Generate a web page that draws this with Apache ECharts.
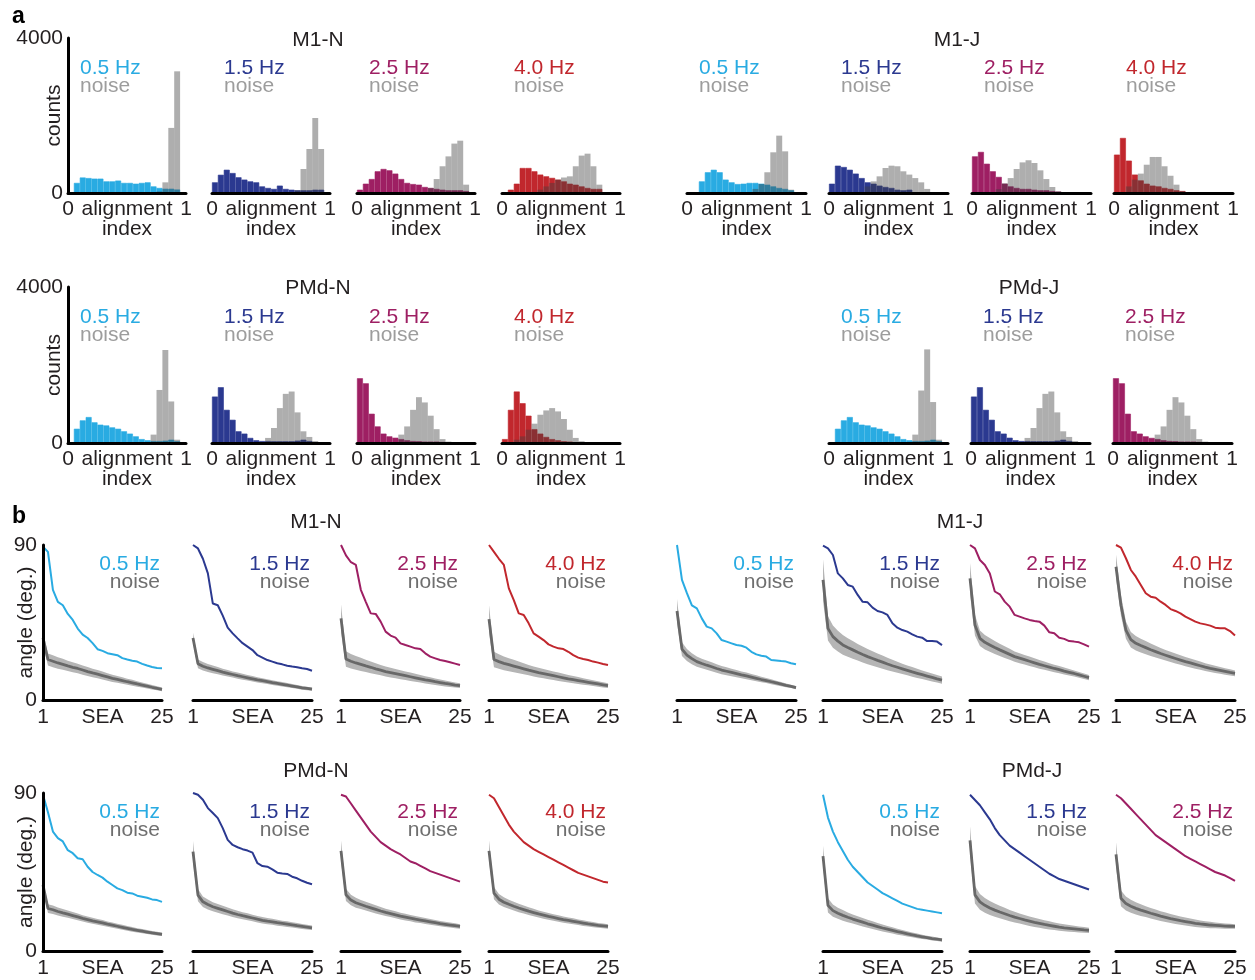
<!DOCTYPE html>
<html><head><meta charset="utf-8">
<script src="https://cdn.jsdelivr.net/npm/echarts@6/dist/echarts.min.js"></script>
<style>html,body{margin:0;padding:0;background:#fff}#c{width:1255px;height:980px}</style>
</head><body><div id="c"></div>
<script>
// ---------- data ----------
const freqLabels = ['0.5 Hz', '1.5 Hz', '2.5 Hz', '4.0 Hz'];
const binCenters = [0.025,0.075,0.125,0.175,0.225,0.275,0.325,0.375,0.425,0.475,0.525,0.575,0.625,0.675,0.725,0.775,0.825,0.875,0.925,0.975];
const seaSteps = [1,2,3,4,5,6,7,8,9,10,11,12,13,14,15,16,17,18,19,20,21,22,23,24,25];

// histogram counts (20 bins of alignment index)
const histM1N_signal = [
  [0,260,400,385,370,370,300,300,320,260,260,240,260,275,170,130,110,110,90,0],
  [275,470,600,515,405,345,300,275,170,130,105,190,105,85,70,70,70,85,85,0],
  [85,240,360,560,620,585,500,360,260,230,215,155,130,105,85,70,70,70,50,0],
  [0,85,240,645,645,560,475,430,390,345,300,240,215,170,130,105,105,0,0,0]];
const histM1N_noise = [
  [0,0,0,0,0,0,0,0,0,0,0,0,0,0,0,40,275,1680,3140,0],
  [0,0,0,0,0,0,0,0,0,0,0,0,0,0,70,620,1135,1935,1135,0],
  [0,0,0,0,0,0,0,0,0,0,0,0,130,360,690,945,1275,1350,215,0],
  [0,0,0,0,0,0,85,170,260,345,400,430,690,965,1015,690,215,0,0,0]];
const histM1J_signal = [
  [0,0,300,535,600,535,345,275,230,240,260,260,240,215,170,130,105,70,0,0],
  [240,705,670,600,500,385,275,240,190,155,130,85,70,85,0,0,0,0,0,0],
  [945,1060,755,560,415,240,170,130,105,105,85,70,70,50,35,0,0,0,0,0],
  [990,1420,835,475,325,240,190,170,130,105,70,50,0,0,0,0,0,0,0,0]];
const histM1J_noise = [
  [0,0,0,0,0,0,0,0,0,0,0,105,230,535,1050,1480,1075,85,0,0],
  [0,0,0,0,0,0,170,300,430,645,705,690,560,475,385,275,105,0,0,0],
  [0,0,0,0,100,250,385,620,790,845,775,585,360,155,45,0,0,0,0,0],
  [0,0,170,345,500,730,930,930,690,445,215,50,0,0,0,0,0,0,0,0]];
const histPMdN_signal = [
  [0,365,580,665,530,470,450,400,365,300,240,170,100,70,50,50,60,85,45,0],
  [1190,1430,850,595,300,240,130,70,50,50,45,45,45,45,60,85,50,0,0,0],
  [1660,1530,750,425,240,170,135,100,70,50,45,35,35,35,25,0,0,0,0,0],
  [100,850,1320,1020,700,355,240,155,100,70,45,35,0,0,0,0,0,0,0,0]];
const histPMdN_noise = [
  [0,0,0,0,0,0,0,0,0,0,0,0,0,0,215,1360,2385,1065,85,0],
  [0,0,0,0,0,0,0,0,0,130,385,895,1260,1320,785,300,155,50,0,0],
  [0,0,0,0,0,0,0,215,425,850,1175,1040,700,355,100,35,0,0,0,0],
  [0,0,85,170,340,495,725,835,895,810,615,340,130,45,0,0,0,0,0,0]];
const histPMdJ_signal = [
  [0,365,580,665,530,470,450,400,365,300,240,170,100,70,50,50,60,85,45,0],
  [1190,1430,850,595,300,240,135,70,50,50,45,45,45,45,60,85,50,0,0,0],
  [1660,1530,750,300,240,170,130,100,70,50,45,35,35,35,25,0,0,0,0,0]];
const histPMdJ_noise = [
  [0,0,0,0,0,0,0,0,0,0,0,0,0,0,215,1345,2400,1050,85,0],
  [0,0,0,0,0,0,0,0,0,130,385,895,1260,1320,785,300,155,50,0,0],
  [0,0,0,0,0,0,0,215,425,850,1175,1040,700,355,100,35,0,0,0,0]];

// angle (deg.) vs SEA
const angM1N_signal = [
  [89,86,64,57,55,50,46.5,41.5,38,36,33,29.5,28.5,27.2,26.6,26,24.3,23.5,22.8,22.3,21,20,19.2,18.6,18.4],
  [90,88,82,73.5,56,55,49,42,38.7,35.8,33,31,29,26,24.6,23.2,22.3,21.3,20.7,19.9,19.4,19,18.4,18,17],
  [90,84,80,78.4,64,57,50.3,50,45.5,39.7,37.4,36.2,32.9,31.9,31,30,29.6,27.1,25.2,24.2,23.2,22.6,21.9,21.1,20.3],
  [90,86,82,78.4,64.8,58,50.3,49.4,44.5,38.7,36.8,34.8,32.3,31,30,29.6,28,26.1,24.6,23.8,23.2,22.3,21.7,20.9,20.3]];
const angM1N_noiseMean = [
  [36,23.5,22.5,21.5,20.7,19.8,19,18.3,17.4,16.5,15.7,15,14.2,13.4,12.6,12,11.3,10.6,10,9.3,8.7,8.1,7.4,6.8,6.2],
  [36,21,19.6,18.6,17.8,17,16.2,15.5,14.8,14.1,13.5,12.9,12.3,11.7,11.2,10.7,10.1,9.6,9.1,8.6,8.1,7.6,7.1,6.7,6.3],
  [47.4,23.8,22.5,21.5,20.7,19.8,19,18.1,17.3,16.5,15.9,15.3,14.7,14.1,13.5,12.9,12.3,11.7,11.2,10.6,10.1,9.6,9.2,8.7,8.3],
  [47,23.5,22.3,21.3,20.5,19.7,18.9,18.1,17.3,16.6,15.9,15.3,14.7,14.1,13.5,12.9,12.3,11.8,11.3,10.8,10.3,9.8,9.3,8.8,8.3]];
const angM1N_noiseSpread = [
  [4,3.5,3.5,3.3,3.2,3,2.9,2.8,2.7,2.6,2.5,2.4,2.3,2.2,2.1,2,1.9,1.8,1.7,1.6,1.5,1.4,1.3,1.2,1.1],
  [3,2.5,2.4,2.3,2.2,2.1,2,1.9,1.8,1.8,1.7,1.6,1.6,1.5,1.5,1.4,1.4,1.3,1.3,1.2,1.2,1.1,1.1,1,1],
  [8,4.5,4.2,4,3.8,3.6,3.4,3.2,3,2.9,2.8,2.7,2.6,2.5,2.4,2.3,2.2,2.1,2,1.9,1.8,1.7,1.6,1.5,1.4],
  [8,4.5,4.2,4,3.8,3.6,3.4,3.2,3,2.9,2.8,2.7,2.6,2.5,2.4,2.3,2.2,2.1,2,1.9,1.8,1.7,1.6,1.5,1.4]];
const angM1J_signal = [
  [90,69.7,62,55,53.2,47.4,42.6,41.6,38.7,34.8,33.9,32.9,31.9,31.5,30.4,28,26.5,25.7,25.2,23.2,23,22.6,22.3,21.3,20.7],
  [89.6,88,84.2,73.5,70.6,66.8,65.8,61,57,56.7,53.6,51.7,50.9,49.4,44.5,42,40.6,39.7,38.1,36.8,36.2,34.2,34.2,33.9,31.9],
  [90,88,81.3,78.4,73.5,63,61.4,57.1,54.2,49.4,48.4,47.4,46.5,45.9,45.5,43.2,39.3,38.7,36.2,35.5,34.2,33.9,33.5,32.3,31],
  [90,88.5,82.3,75.5,71.6,66.8,62,60,59.4,57.1,55.2,52.8,51.7,50.3,48.4,47,45.5,44.5,43.9,43.2,42,41.6,41.6,40,37.4]];
const angM1J_noiseMean = [
  [51.7,29.6,26.1,24,22.3,21.2,20.2,19.3,18.3,17.4,16.7,16,15.3,14.6,14,13.3,12.6,11.9,11.3,10.6,9.9,9.2,8.5,7.9,7.2],
  [69.7,41.6,36.8,34.2,32,30.5,29.1,27.7,26.4,25.2,24.1,23,22,20.9,19.9,19,18.1,17.2,16.3,15.5,14.7,13.9,13.1,12.3,11.6],
  [70.6,43.5,35.8,33.5,32,30.5,29.1,27.8,26.5,25.2,24.3,23.4,22.5,21.6,20.7,19.9,19.1,18.3,17.6,16.8,16.1,15.4,14.6,13.8,13],
  [77.4,55,40.6,35,32.9,31.6,30.4,29.2,28.1,27,26,25,24.1,23.2,22.3,21.5,20.7,19.9,19.1,18.4,17.8,17.2,16.6,16,15.5]];
const angM1J_noiseSpread = [
  [7,4,3.5,3.2,3,2.8,2.7,2.6,2.5,2.4,2.3,2.2,2.1,2,1.9,1.8,1.7,1.6,1.5,1.4,1.3,1.2,1.1,1,1],
  [12,7,6.5,6,5.7,5.4,5.1,4.8,4.6,4.4,4.2,4,3.8,3.6,3.4,3.2,3,2.9,2.8,2.7,2.5,2.4,2.3,2.2,2.1],
  [9,6,4.5,4.2,4,3.8,3.6,3.4,3.2,3,2.9,2.8,2.7,2.6,2.5,2.4,2.3,2.2,2.1,2,1.9,1.8,1.7,1.6,1.5],
  [7,6,5,4.5,4.2,4,3.8,3.6,3.4,3.2,3.1,3,2.9,2.8,2.7,2.6,2.5,2.4,2.3,2.2,2.1,2,1.9,1.8,1.7]];
const angPMdN_signal = [
  [89,79,68,64.3,62.4,57.4,55.7,52.8,52.3,48,45,43.3,41.8,39.5,37.6,35.7,34.7,33.2,32.8,31.5,30.9,30.3,29.4,29,28],
  [90,89,86.2,81.4,78.6,75.7,70,63.3,60.4,59.1,58,57.2,56,50,48.4,48,46.5,44.6,44.2,43.9,42.3,41.4,40,38.9,38],
  [89,88,84,80,76,72,68,65,62,60,58,56.5,55,53,51,50,48.5,47,45.5,44.5,43.5,42.5,41.5,40.5,39.5],
  [89,87,82,77,72,68,65,62,60,58,56.5,55,53.5,52,50.5,49,47.5,46,44.5,43.5,42.5,41.5,40.5,39.5,39]];
const angPMdN_noiseMean = [
  [37.6,24.2,23.5,22.5,21.7,21,20.2,19.4,18.6,17.9,17.2,16.6,16,15.3,14.7,14.1,13.5,12.9,12.3,11.8,11.3,10.8,10.3,9.9,9.5],
  [56.6,31.8,28,26.5,25.2,24.3,23.4,22.5,21.6,20.8,20.1,19.5,18.8,18.1,17.5,17,16.6,16.1,15.7,15.3,14.9,14.4,14,13.6,13.2],
  [57,32,29,27.5,26.5,25.5,24.6,23.7,22.8,22,21.3,20.6,19.9,19.3,18.7,18.1,17.6,17.1,16.6,16.1,15.6,15.2,14.8,14.4,14],
  [57,33,29.5,27.8,26.6,25.5,24.5,23.6,22.7,21.9,21.1,20.4,19.7,19.1,18.5,17.9,17.4,16.9,16.4,15.9,15.4,15,14.6,14.3,14]];
const angPMdN_noiseSpread = [
  [3,2.5,2.4,2.3,2.2,2.1,2,1.9,1.8,1.8,1.7,1.6,1.6,1.5,1.5,1.4,1.4,1.3,1.3,1.2,1.2,1.1,1.1,1,1],
  [6,3.5,3,2.8,2.6,2.5,2.4,2.3,2.2,2.1,2,2,1.9,1.9,1.8,1.8,1.7,1.7,1.6,1.6,1.5,1.5,1.4,1.4,1.3],
  [6,3.5,3,2.8,2.6,2.5,2.4,2.3,2.2,2.1,2,2,1.9,1.9,1.8,1.8,1.7,1.7,1.6,1.6,1.5,1.5,1.4,1.4,1.3],
  [6,3.5,3,2.8,2.6,2.5,2.4,2.3,2.2,2.1,2,2,1.9,1.9,1.8,1.8,1.7,1.7,1.6,1.6,1.5,1.5,1.4,1.4,1.3]];
const angPMdJ_signal = [
  [89,76,68,62,57,52,48,45,42,39,37,35,33,31.5,30,28.5,27,26,25,24,23.5,23,22.5,22,21.5],
  [89,86,83,79,75,70,66,63,60,58,56,54,52,50,48,46,44,42.5,41,40,39,38,37,36,35],
  [89,87,84,81,78,75,72,69,66,64,62,60,58,56,54,52.5,51,49.5,48,46.5,45,44,43,41.5,40]];
const angPMdJ_noiseMean = [
  [54,26,23,21.5,20.3,19.2,18.2,17.3,16.4,15.5,14.7,13.9,13.1,12.4,11.7,11,10.4,9.8,9.2,8.6,8.1,7.6,7.1,6.7,6.3],
  [63,32,28,26,24.5,23.3,22.2,21.2,20.2,19.3,18.5,17.7,17,16.3,15.7,15.1,14.6,14.1,13.6,13.2,12.9,12.6,12.3,12,11.8],
  [55,30,27,25.5,24.3,23.3,22.4,21.5,20.7,19.9,19.2,18.5,17.9,17.3,16.8,16.3,15.8,15.4,15.1,14.8,14.6,14.4,14.2,14.1,14]];
const angPMdJ_noiseSpread = [
  [6,4,3.5,3.2,3,2.8,2.6,2.5,2.4,2.3,2.2,2.1,2,1.9,1.8,1.7,1.6,1.5,1.4,1.3,1.2,1.1,1.1,1,1],
  [8,5,4.5,4.2,4,3.8,3.6,3.4,3.2,3,2.9,2.8,2.7,2.6,2.5,2.4,2.3,2.2,2.1,2,1.9,1.8,1.7,1.6,1.5],
  [7,4.5,4,3.7,3.5,3.3,3.1,3,2.9,2.8,2.7,2.6,2.5,2.4,2.3,2.2,2.1,2,1.9,1.8,1.7,1.6,1.5,1.4,1.3]];

// ---------- style / layout ----------
const freqColors = ['#29abe2', '#2b3990', '#9e1f63', '#c1272d'];
const FONT = "'Liberation Sans', Arial, Helvetica, sans-serif";
const BLACK = '#231f20';
const FS = 21;

const chart = echarts.init(document.getElementById('c'));
const grids = [], xAxes = [], yAxes = [], series = [], graphics = [];

function txt(x, y, text, color, align) {
  graphics.push({
    type: 'text', x: x, y: y, silent: true,
    style: { text: text, fill: color, fontSize: FS, fontFamily: FONT,
      align: align, textAlign: align, verticalAlign: 'middle', textVerticalAlign: 'middle' }
  });
}

function addHist(left, top, w, h, sig, noi, fi, showY, labelY) {
  const gi = grids.length;
  grids.push({ left: left, top: top, width: w, height: h, containLabel: false, outerBoundsMode: 'none' });
  const xc = xAxes.length;
  xAxes.push({ type: 'category', gridIndex: gi, data: binCenters, show: false, boundaryGap: true, position: 'bottom' });
  xAxes.push({ type: 'value', gridIndex: gi, min: 0, max: 1, interval: 1, position: 'bottom', z: 6,
    axisLine: { show: true, onZero: false, lineStyle: { color: '#000', width: 3 } },
    axisTick: { show: false }, splitLine: { show: false },
    axisLabel: { show: true, margin: 6, fontSize: FS, color: BLACK, fontFamily: FONT },
    name: 'alignment\nindex', nameLocation: 'middle', nameGap: 6, nameMoveOverlap: false,
    nameTextStyle: { fontSize: FS, lineHeight: 20, color: BLACK, fontFamily: FONT, verticalAlign: 'top' } });
  const yi = yAxes.length;
  yAxes.push({ type: 'value', gridIndex: gi, min: 0, max: 4000, interval: 4000, show: showY, z: 6,
    axisLine: { show: true, lineStyle: { color: '#000', width: 3 } },
    axisTick: { show: false }, splitLine: { show: false },
    axisLabel: { margin: 5, fontSize: FS, color: BLACK, fontFamily: FONT, formatter: v => String(v) },
    name: 'counts', nameLocation: 'middle', nameGap: 3, nameMoveOverlap: false,
    nameTextStyle: { fontSize: FS, color: BLACK, fontFamily: FONT } });
  series.push({ type: 'bar', xAxisIndex: xc, yAxisIndex: yi, data: sig, barGap: '-100%', barCategoryGap: '0%',
    itemStyle: { color: freqColors[fi], borderColor: freqColors[fi], borderWidth: 0.6 }, silent: true, animation: false, z: 2 });
  series.push({ type: 'bar', xAxisIndex: xc, yAxisIndex: yi, data: noi, barGap: '-100%', barCategoryGap: '0%',
    itemStyle: { color: 'rgba(62,62,62,0.42)' }, silent: true, animation: false, z: 3 });
  txt(left + 12, labelY, freqLabels[fi], freqColors[fi], 'left');
  txt(left + 12, labelY + 18, 'noise', '#9d9d9d', 'left');
}

function addLine(left, top, w, h, sig, mean, spread, fi, showY, labelY) {
  const gi = grids.length;
  grids.push({ left: left, top: top, width: w, height: h, containLabel: false, outerBoundsMode: 'none' });
  const xi = xAxes.length;
  xAxes.push({ type: 'category', gridIndex: gi, data: seaSteps, boundaryGap: false, position: 'bottom', z: 6,
    axisLine: { show: true, onZero: false, lineStyle: { color: '#000', width: 3 } },
    axisTick: { show: false }, splitLine: { show: false },
    axisLabel: { margin: 7, fontSize: FS, color: BLACK, fontFamily: FONT, interval: 0,
      formatter: (v, idx) => (idx === 0 || idx === seaSteps.length - 1) ? String(v) : '' },
    name: 'SEA', nameLocation: 'middle', nameGap: 7, nameMoveOverlap: false,
    nameTextStyle: { fontSize: FS, color: BLACK, fontFamily: FONT, verticalAlign: 'top' } });
  const yi = yAxes.length;
  yAxes.push({ type: 'value', gridIndex: gi, min: 0, max: 90, interval: 90, show: showY, z: 6,
    axisLine: { show: true, lineStyle: { color: '#000', width: 3 } },
    axisTick: { show: false }, splitLine: { show: false },
    axisLabel: { margin: 6, fontSize: FS, color: BLACK, fontFamily: FONT },
    name: 'angle (deg.)', nameLocation: 'middle', nameGap: 6, nameMoveOverlap: false,
    nameTextStyle: { fontSize: FS, color: BLACK, fontFamily: FONT } });
  const stackId = 'band' + gi;
  const lo = seaSteps.map((s, i) => mean[i] - spread[i]);
  const width = seaSteps.map((s, i) => 2 * spread[i]);
  series.push({ type: 'line', xAxisIndex: xi, yAxisIndex: yi, stack: stackId, data: lo, symbol: 'none',
    lineStyle: { width: 0, opacity: 0 }, silent: true, animation: false, z: 2 });
  series.push({ type: 'line', xAxisIndex: xi, yAxisIndex: yi, stack: stackId, data: width, symbol: 'none',
    lineStyle: { width: 0, opacity: 0 }, areaStyle: { color: '#b5b5b5', opacity: 1 }, silent: true, animation: false, z: 2 });
  series.push({ type: 'line', xAxisIndex: xi, yAxisIndex: yi, data: mean, symbol: 'none',
    lineStyle: { width: 2.8, color: '#686868' }, silent: true, animation: false, z: 3, clip: false });
  series.push({ type: 'line', xAxisIndex: xi, yAxisIndex: yi, data: sig, symbol: 'none',
    lineStyle: { width: 2, color: freqColors[fi] }, silent: true, animation: false, z: 4, clip: false });
  txt(left + w - 2, labelY, freqLabels[fi], freqColors[fi], 'right');
  txt(left + w - 2, labelY + 18, 'noise', '#6f6f6f', 'right');
}

// part a
const aN = [68, 212, 357, 502];
const aJ = [687, 829, 972, 1114];
const aPJ = [829, 971, 1113];
for (let i = 0; i < 4; i++) addHist(aN[i], 38, 118, 155, histM1N_signal[i], histM1N_noise[i], i, i === 0, 68);
for (let i = 0; i < 4; i++) addHist(aJ[i], 38, 119, 155, histM1J_signal[i], histM1J_noise[i], i, false, 68);
for (let i = 0; i < 4; i++) addHist(aN[i], 287, 118, 156, histPMdN_signal[i], histPMdN_noise[i], i, i === 0, 317);
for (let i = 0; i < 3; i++) addHist(aPJ[i], 287, 119, 156, histPMdJ_signal[i], histPMdJ_noise[i], i, false, 317);

// part b
const bN = [43, 193, 341, 489];
const bJ = [677, 823, 970, 1116];
const bPJ = [823, 970, 1116];
for (let i = 0; i < 4; i++) addLine(bN[i], 545, 119, 155, angM1N_signal[i], angM1N_noiseMean[i], angM1N_noiseSpread[i], i, i === 0, 564);
for (let i = 0; i < 4; i++) addLine(bJ[i], 545, 119, 155, angM1J_signal[i], angM1J_noiseMean[i], angM1J_noiseSpread[i], i, false, 564);
for (let i = 0; i < 4; i++) addLine(bN[i], 793, 119, 158, angPMdN_signal[i], angPMdN_noiseMean[i], angPMdN_noiseSpread[i], i, i === 0, 812);
for (let i = 0; i < 3; i++) addLine(bPJ[i], 793, 119, 158, angPMdJ_signal[i], angPMdJ_noiseMean[i], angPMdJ_noiseSpread[i], i, false, 812);

// titles and panel letters
txt(318, 40, 'M1-N', BLACK, 'center');
txt(957, 40, 'M1-J', BLACK, 'center');
txt(318, 288, 'PMd-N', BLACK, 'center');
txt(1029, 288, 'PMd-J', BLACK, 'center');
txt(316, 522, 'M1-N', BLACK, 'center');
txt(960, 522, 'M1-J', BLACK, 'center');
txt(316, 771, 'PMd-N', BLACK, 'center');
txt(1032, 771, 'PMd-J', BLACK, 'center');
graphics.push({ type: 'text', x: 12, y: 17, silent: true, style: { text: 'a', fill: '#000', fontSize: 23, fontWeight: 'bold', fontFamily: FONT, align: 'left', textAlign: 'left', verticalAlign: 'middle', textVerticalAlign: 'middle' } });
graphics.push({ type: 'text', x: 12, y: 517, silent: true, style: { text: 'b', fill: '#000', fontSize: 23, fontWeight: 'bold', fontFamily: FONT, align: 'left', textAlign: 'left', verticalAlign: 'middle', textVerticalAlign: 'middle' } });

chart.setOption({
  animation: false,
  backgroundColor: '#fff',
  textStyle: { fontFamily: FONT },
  grid: grids, xAxis: xAxes, yAxis: yAxes, series: series,
  graphic: { elements: graphics }
});
</script></body></html>
